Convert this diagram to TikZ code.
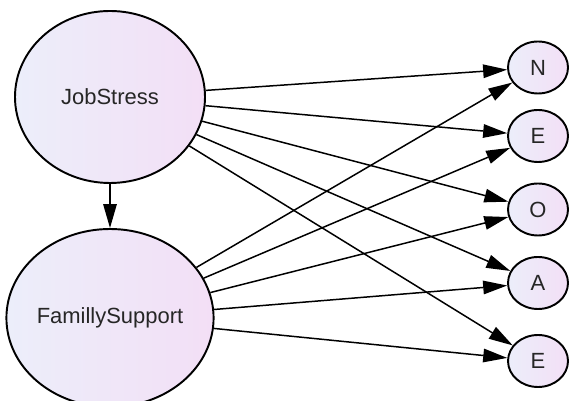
\documentclass[tikz,border=0pt]{standalone}
\usepackage{fontspec}
\setmainfont{Liberation Sans}
\usetikzlibrary{shapes.geometric,arrows.meta}
\definecolor{nodeleft}{RGB}{236,238,250}
\definecolor{noderight}{RGB}{243,223,246}
\tikzset{
  latent/.style={ellipse, draw=black, line width=1.1pt, inner sep=0pt, text=black!85,
    left color=nodeleft, right color=noderight, font=\fontsize{12.5}{15}\selectfont},
  bigvar/.style={latent, minimum width=3.8cm, minimum height=3.5cm},
  smallvar/.style={latent, minimum width=1.2cm, minimum height=1.04cm},
  path/.style={-{Triangle[length=4.8mm, width=2.7mm]}, line width=0.85pt}
}
\begin{document}
\begin{tikzpicture}
\clip (0,0) rectangle (11.38,8);
\fill[white] (0,0) rectangle (11.38,8);
\node[bigvar, minimum height=3.44cm] (js) at (2.2,6.06) {JobStress};
\node[bigvar, minimum width=3.76cm, minimum height=3.56cm] (fs) at (2.2,1.64) {FamillySupport};
\node[smallvar] (n) at (10.76,6.65) {N};
\node[smallvar] (e1) at (10.76,5.28) {E};
\node[smallvar] (o) at (10.76,3.81) {O};
\node[smallvar] (a) at (10.76,2.34) {A};
\node[smallvar] (e2) at (10.76,0.78) {E};
\draw[path] (js) -- (fs);
\foreach \t in {n,e1,o,a,e2} {
  \draw[path] (js) -- (\t);
  \draw[path] (fs) -- (\t);
}
\end{tikzpicture}
\end{document}
